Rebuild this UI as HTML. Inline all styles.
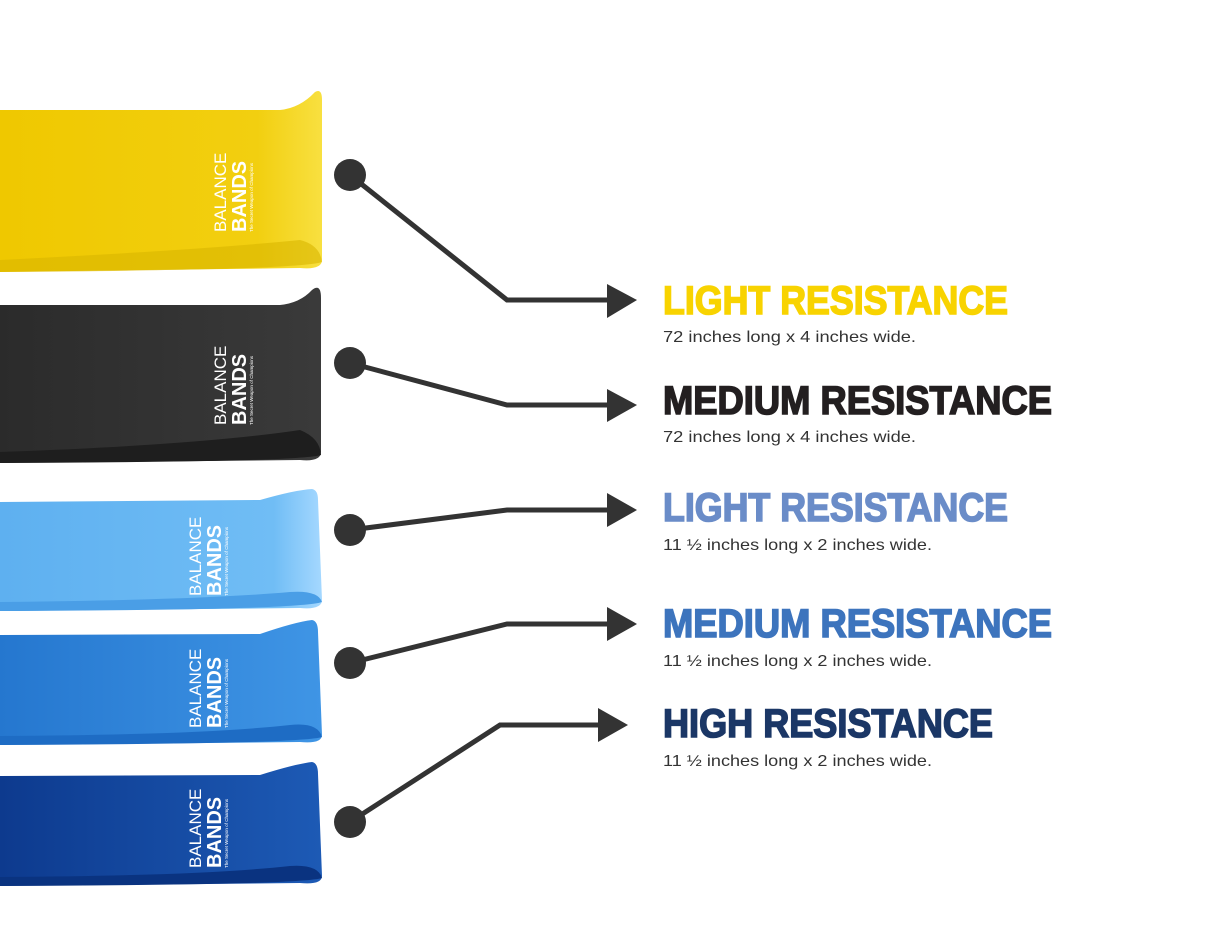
<!DOCTYPE html>
<html><head><meta charset="utf-8"><style>
html,body{margin:0;padding:0;background:#fff;}
svg{display:block;}
.t{font-family:"Liberation Sans",Arial,sans-serif;font-weight:bold;font-size:40px;stroke-width:1.6;}
.s{font-family:"Liberation Sans",Arial,sans-serif;font-size:16px;fill:#333;}
.logo{font-family:"Liberation Sans",Arial,sans-serif;fill:#fff;}
</style></head><body>
<svg width="1223" height="944" viewBox="0 0 1223 944" xmlns="http://www.w3.org/2000/svg">
<defs>
<linearGradient id="gy" x1="0" x2="1"><stop offset="0" stop-color="#efc800"/><stop offset="0.8" stop-color="#f2cf10"/><stop offset="1" stop-color="#f8e040"/></linearGradient>
<linearGradient id="gk" x1="0" x2="1"><stop offset="0" stop-color="#2b2b2b"/><stop offset="1" stop-color="#3a3a3a"/></linearGradient>
<linearGradient id="gl" x1="0" x2="1"><stop offset="0" stop-color="#5eb0f0"/><stop offset="0.85" stop-color="#70bdf5"/><stop offset="1" stop-color="#a5d8ff"/></linearGradient>
<linearGradient id="gm" x1="0" x2="1"><stop offset="0" stop-color="#2577cf"/><stop offset="1" stop-color="#3f95e5"/></linearGradient>
<linearGradient id="gd" x1="0" x2="1"><stop offset="0" stop-color="#0d3a8e"/><stop offset="1" stop-color="#1d5ab5"/></linearGradient>
</defs>
<path d="M0,110 L280,110 Q300,108 315,92 Q322,88 322,100 L322,260 Q322,270 300,268 L0,272 Z" fill="url(#gy)"/>
<path d="M0,260 Q200,250 300,240 Q320,245 322,262 Q300,270 0,272 Z" fill="#d9b500" opacity="0.6"/>
<path d="M0,305 L280,305 Q300,303 312,290 Q321,283 321,298 L321,452 Q321,462 300,460 L0,463 Z" fill="url(#gk)"/>
<path d="M0,452 Q200,445 300,430 Q320,438 321,455 Q300,462 0,463 Z" fill="#1e1e1e"/>
<path d="M0,502 L260,500 Q295,490 312,489 Q318,490 318,500 L322,600 Q322,610 300,608 L0,611 Z" fill="url(#gl)"/>
<path d="M0,602 Q200,600 290,592 Q318,590 322,602 Q300,610 0,611 Z" fill="#4a9ee6"/>
<path d="M0,635 L260,634 Q295,622 312,620 Q318,621 318,632 L322,735 Q322,744 300,742 L0,745 Z" fill="url(#gm)"/>
<path d="M0,736 Q200,735 290,725 Q318,722 322,737 Q300,744 0,745 Z" fill="#1e6cc4"/>
<path d="M0,776 L260,775 Q295,764 312,762 Q318,763 318,774 L322,876 Q322,885 300,883 L0,886 Z" fill="url(#gd)"/>
<path d="M0,877 Q200,876 290,866 Q318,864 322,878 Q300,885 0,886 Z" fill="#0a3380"/>
<g class="logo">
<g transform="translate(246,232) rotate(-90)"><text x="0" y="-20" font-size="17">BALANCE</text><text x="0" y="0" font-size="20" font-weight="bold">BANDS</text><text x="0" y="7" font-size="4.5">The Secret Weapon of Champions</text></g>
<g transform="translate(246,425) rotate(-90)"><text x="0" y="-20" font-size="17">BALANCE</text><text x="0" y="0" font-size="20" font-weight="bold">BANDS</text><text x="0" y="7" font-size="4.5">The Secret Weapon of Champions</text></g>
<g transform="translate(221,596) rotate(-90)"><text x="0" y="-20" font-size="17">BALANCE</text><text x="0" y="0" font-size="20" font-weight="bold">BANDS</text><text x="0" y="7" font-size="4.5">The Secret Weapon of Champions</text></g>
<g transform="translate(221,728) rotate(-90)"><text x="0" y="-20" font-size="17">BALANCE</text><text x="0" y="0" font-size="20" font-weight="bold">BANDS</text><text x="0" y="7" font-size="4.5">The Secret Weapon of Champions</text></g>
<g transform="translate(221,868) rotate(-90)"><text x="0" y="-20" font-size="17">BALANCE</text><text x="0" y="0" font-size="20" font-weight="bold">BANDS</text><text x="0" y="7" font-size="4.5">The Secret Weapon of Champions</text></g>
</g>
<g stroke="#333" stroke-width="5" fill="none">
<polyline points="350,175 507,300 612,300"/>
<polyline points="350,363 507,405 612,405"/>
<polyline points="350,530 507,510 612,510"/>
<polyline points="350,663 507,624 612,624"/>
<polyline points="350,822 500,725 604,725"/>
</g>
<g fill="#333">
<circle cx="350" cy="175" r="16"/><circle cx="350" cy="363" r="16"/><circle cx="350" cy="530" r="16"/><circle cx="350" cy="663" r="16"/><circle cx="350" cy="822" r="16"/>
<polygon points="607,284 637,300 607,318"/>
<polygon points="607,389 637,405 607,422"/>
<polygon points="607,493 637,510 607,527"/>
<polygon points="607,607 637,624 607,641"/>
<polygon points="598,708 628,725 598,742"/>
</g>
<text class="t" x="663" y="314" fill="#f8d300" stroke="#f8d300" textLength="345" lengthAdjust="spacingAndGlyphs">LIGHT RESISTANCE</text>
<text class="s" x="663" y="342" textLength="253" lengthAdjust="spacingAndGlyphs">72 inches long x 4 inches wide.</text>
<text class="t" x="663" y="414" fill="#231f20" stroke="#231f20" textLength="389" lengthAdjust="spacingAndGlyphs">MEDIUM RESISTANCE</text>
<text class="s" x="663" y="442" textLength="253" lengthAdjust="spacingAndGlyphs">72 inches long x 4 inches wide.</text>
<text class="t" x="663" y="521" fill="#6a8cc8" stroke="#6a8cc8" textLength="345" lengthAdjust="spacingAndGlyphs">LIGHT RESISTANCE</text>
<text class="s" x="663" y="550" textLength="269" lengthAdjust="spacingAndGlyphs">11 ½ inches long x 2 inches wide.</text>
<text class="t" x="663" y="637" fill="#3d74bd" stroke="#3d74bd" textLength="389" lengthAdjust="spacingAndGlyphs">MEDIUM RESISTANCE</text>
<text class="s" x="663" y="666" textLength="269" lengthAdjust="spacingAndGlyphs">11 ½ inches long x 2 inches wide.</text>
<text class="t" x="663" y="737" fill="#1b3766" stroke="#1b3766" textLength="330" lengthAdjust="spacingAndGlyphs">HIGH RESISTANCE</text>
<text class="s" x="663" y="766" textLength="269" lengthAdjust="spacingAndGlyphs">11 ½ inches long x 2 inches wide.</text>
</svg>
</body></html>
